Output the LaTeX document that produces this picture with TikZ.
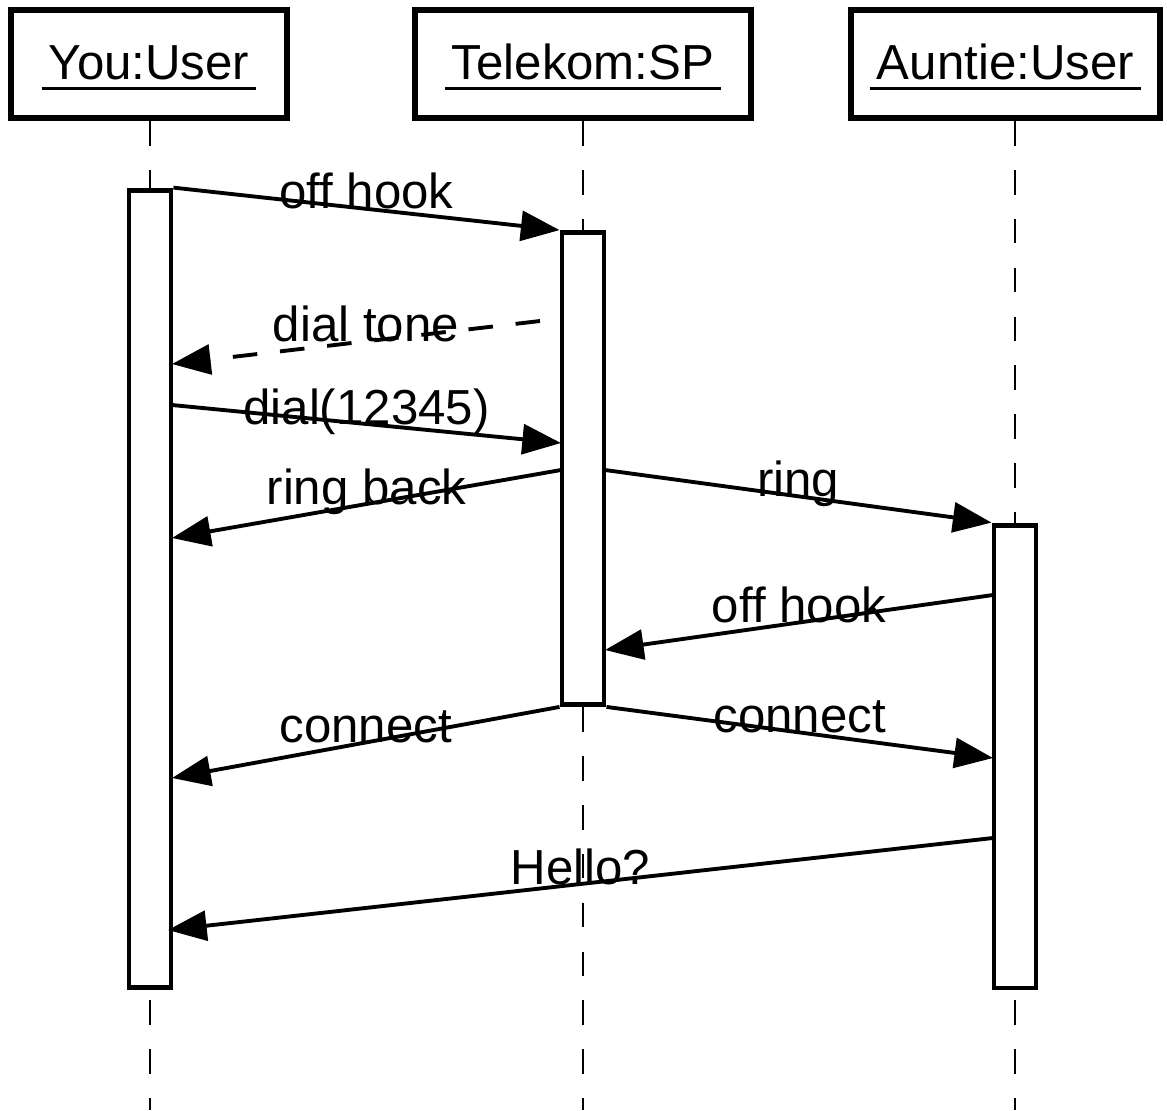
\documentclass[tikz,border=0pt]{standalone}
\usepackage{fontspec}
\setmainfont{Liberation Sans}
\usetikzlibrary{arrows.meta}

% object name with a heavier underline set a little lower
\newcommand{\objname}[1]{\vtop{\hbox{\kern4pt#1\kern4pt}\kern3.8pt\hrule height 1.7pt}}

\tikzset{
  object/.style={draw, line width=3.6pt, fill=white, minimum height=2.16cm, inner sep=0pt,
    text height=24pt, text depth=6pt, font=\fontsize{28}{33}\selectfont},
  bar/.style={draw, line width=2.8pt, fill=white, minimum width=0.84cm, inner sep=0pt},
  lifeline/.style={line width=1.5pt, dash pattern=on 14pt off 13.8pt},
  msg/.style={line width=2.2pt, -{Triangle[length=22pt,width=17pt]}},
  reply/.style={msg, dash pattern=on 14pt off 13pt},
  msglabel/.style={anchor=base, inner sep=0pt, font=\fontsize{28}{33}\selectfont}
}

\begin{document}
\begin{tikzpicture}[x=0.02cm, y=-0.02cm]
    \useasboundingbox (0,0) rectangle (1167,1110);

    % First, the three objects along the top
        \node[object, minimum width=5.51cm] (you) at (149,64) {\objname{You:User}};
        \node[object, minimum width=6.72cm] (telekom) at (583,64) {\objname{Telekom:SP}};
        \node[object, minimum width=6.18cm] (auntie) at (1005.5,64) {\objname{Auntie:User}};

    % Lifelines run off the bottom edge
        \coordinate (youEnd) at (150,1110);
        \coordinate (telekomEnd) at (583,1110);
        \coordinate (auntieEnd) at (1015,1110);
        \draw[lifeline] (you.south -| youEnd) -- (youEnd);
        \draw[lifeline] (telekom.south -| telekomEnd) -- (telekomEnd);
        \draw[lifeline] (auntie.south -| auntieEnd) -- (auntieEnd);

    % Activation bars
        \node[bar, minimum height=15.96cm] (youBar) at (150,589) {};
        \node[bar, minimum height=9.44cm] (telekomBar) at (583,468.5) {};
        \node[bar, minimum height=9.26cm] (auntieBar) at (1015,756.5) {};

    % Points where the messages leave and reach the bars
        \coordinate (toneFrom) at (540,321);
        \coordinate (toneTo) at (172,364);
        \coordinate (dialFrom) at (172,405);
        \coordinate (dialTo) at (561,443);
        \coordinate (backFrom) at (561,470);
        \coordinate (backTo) at (172,538);
        \coordinate (ringFrom) at (605,470);
        \coordinate (hookFrom) at (993,595);
        \coordinate (hookTo) at (605,650);
        \coordinate (connYou) at (172,778);
        \coordinate (connAuntie) at (993,758);
        \coordinate (helloFrom) at (993,838);
        \coordinate (helloTo) at (168,930);

    % Now draw the messages:
        \draw[msg] (youBar.north east) -- node[msglabel] {off hook} (telekomBar.north west);
        \draw[reply] (toneFrom) -- node[msglabel, pos=0.473] {dial tone} (toneTo);
        \draw[msg] (dialFrom) -- node[msglabel] {dial(12345)} (dialTo);
        \draw[msg] (backFrom) -- node[msglabel] {ring back} (backTo);
        \draw[msg] (ringFrom) -- node[msglabel] {ring} (auntieBar.north west);
        \draw[msg] (hookFrom) -- node[msglabel] {off hook} (hookTo);
        \draw[msg] (telekomBar.south west) -- node[msglabel] {connect} (connYou);
        \draw[msg] (telekomBar.south east) -- node[msglabel] {connect} (connAuntie);
        \draw[msg] (helloFrom) -- node[msglabel] {Hello?} (helloTo);
\end{tikzpicture}
\end{document}
